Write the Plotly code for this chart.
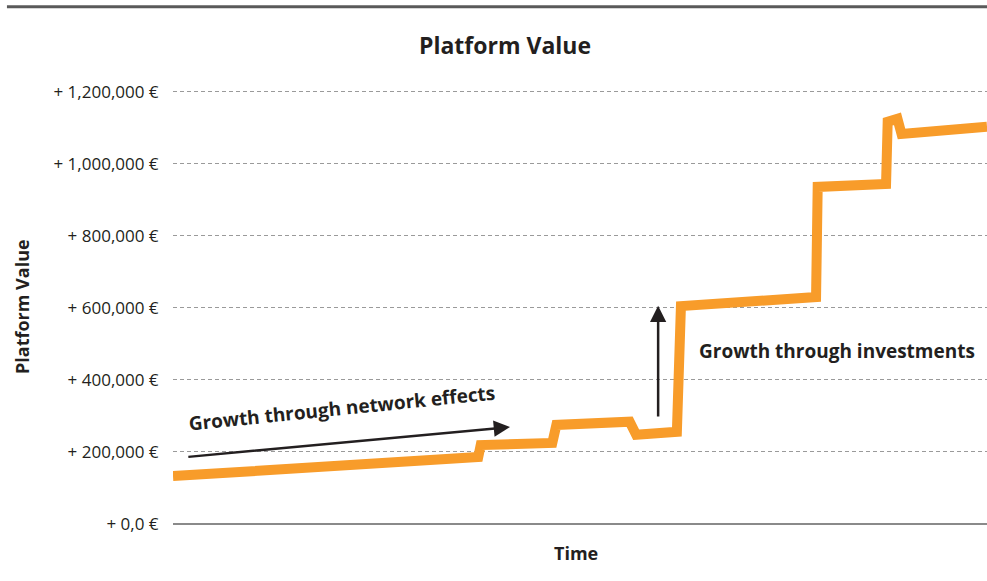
import plotly.graph_objects as go

# Data (time in arbitrary units 0-100, value in EUR)
time = [0, 37.5, 37.8, 46.6, 47.1, 56.1, 56.9, 61.9, 62.4, 79.0, 79.2, 87.6, 87.8, 89.0, 89.5, 100]
value = [133000, 186000, 219000, 225000, 275000, 284000, 248000, 256000, 605000, 630000, 936000, 944000, 1117000, 1125000, 1083000, 1103000]
tick_vals = [0, 200000, 400000, 600000, 800000, 1000000, 1200000]
tick_text = ["+ 0,0 €", "+ 200,000 €", "+ 400,000 €", "+ 600,000 €", "+ 800,000 €", "+ 1,000,000 €", "+ 1,200,000 €"]

net_arrow_start = (1.7, 186000)
net_arrow_end = (41.4, 269000)
inv_arrow_start = (59.6, 294000)
inv_arrow_end = (59.6, 606000)

orange = "#F89C2A"
dark = "#231f20"
fontfam = "Open Sans, Roboto, sans-serif"

fig = go.Figure()
fig.add_trace(go.Scatter(x=time, y=value, mode="lines",
                         line=dict(color=orange, width=10, shape="linear"),
                         hoverinfo="skip", showlegend=False, cliponaxis=False))

fig.update_layout(
    width=987, height=581,
    margin=dict(l=173, r=0, t=90, b=57),
    paper_bgcolor="white", plot_bgcolor="white",
    font=dict(family=fontfam, color=dark),
    xaxis=dict(range=[0, 100], showgrid=False, zeroline=False, showline=False,
               showticklabels=False, ticks=""),
    yaxis=dict(range=[0, 1205000], tickvals=tick_vals, ticktext=tick_text,
               showgrid=True, gridcolor="#9a9a9a", gridwidth=1, griddash="4px,3px",
               zeroline=True, zerolinecolor="#8a8a8a", zerolinewidth=2,
               showline=False, ticks="outside", ticklen=10, tickcolor="rgba(0,0,0,0)",
               tickfont=dict(family=fontfam, size=17, color=dark)),
)

# top rule
fig.add_shape(type="line", xref="paper", yref="paper", x0=-0.204, x1=1.0, y0=1.192, y1=1.192,
              line=dict(color="#5a5a5a", width=3))

# title and axis titles
fig.add_annotation(text="<b>Platform Value</b>", xref="paper", yref="paper", x=0.408, y=1.104,
                   xanchor="center", yanchor="middle",
                   showarrow=False, font=dict(size=23, color=dark, family=fontfam))
fig.add_annotation(text="<b>Platform Value</b>", xref="paper", yref="paper", x=-0.1855, y=0.5,
                   xanchor="center", yanchor="middle",
                   textangle=-90, showarrow=False, font=dict(size=18, color=dark, family=fontfam))
fig.add_annotation(text="<b>Time</b>", xref="paper", yref="paper", x=0.495, y=-0.067,
                   xanchor="center", yanchor="middle",
                   showarrow=False, font=dict(size=18, color=dark, family=fontfam))

# arrows
fig.add_annotation(x=net_arrow_end[0], y=net_arrow_end[1], ax=net_arrow_start[0], ay=net_arrow_start[1],
                   xref="x", yref="y", axref="x", ayref="y", text="", showarrow=True,
                   arrowhead=2, arrowsize=1.3, arrowwidth=2.5, arrowcolor=dark)
fig.add_annotation(x=inv_arrow_end[0], y=inv_arrow_end[1], ax=inv_arrow_start[0], ay=inv_arrow_start[1],
                   xref="x", yref="y", axref="x", ayref="y", text="", showarrow=True,
                   arrowhead=2, arrowsize=1.3, arrowwidth=2.5, arrowcolor=dark)

# arrow labels
fig.add_annotation(text="<b>Growth through network effects</b>", x=20.8, y=322000, xref="x", yref="y",
                   showarrow=False, textangle=-5.8, font=dict(size=19, color=dark, family=fontfam))
fig.add_annotation(text="<b>Growth through investments</b>", x=81.6, y=481000, xref="x", yref="y",
                   showarrow=False, font=dict(size=19, color=dark, family=fontfam))

fig.write_html("out.html")
